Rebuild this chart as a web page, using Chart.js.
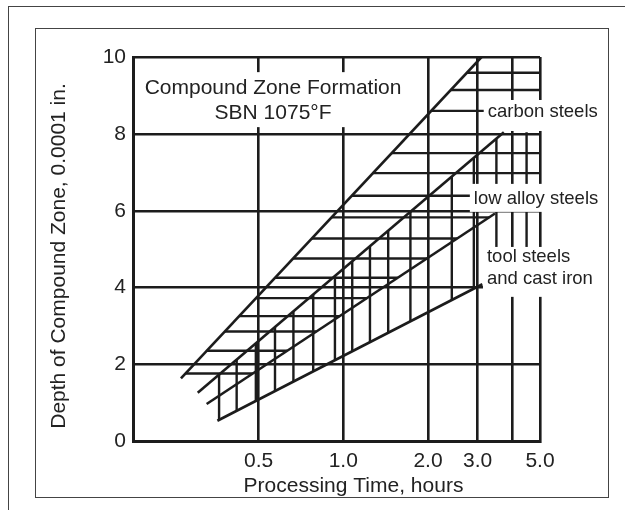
<!DOCTYPE html>
<html>
<head>
<meta charset="utf-8">
<script src="https://cdn.jsdelivr.net/npm/chart.js@4"></script>
<style>
  body { margin: 0; background: #fff; }
  .wrap { position: relative; width: 625px; height: 510px; overflow: hidden; background: #fff; }
  .outer { position: absolute; left: 8px; top: 6px; width: 700px; height: 600px; border-top: 1.5px solid #444; border-left: 1.5px solid #444; }
  .inner { position: absolute; left: 35px; top: 28px; width: 572px; height: 468px; border: 1.5px solid #444; }
  canvas { position: absolute; left: 0; top: 0; }
</style>
</head>
<body>
<div class="wrap">
  <div class="outer"></div>
  <div class="inner"></div>
  <canvas id="chart" width="625" height="510"></canvas>
</div>
<script>
const xTicks = [0.5, 1, 2, 3, 4, 5];
const xTickLabels = ['0.5', '1.0', '2.0', '3.0', '', '5.0'];
const yTicks = [0, 2, 4, 6, 8, 10];

// band edges, top to bottom: carbon upper, alloy upper, tool upper, tool lower
const edgeStartX = [0.265, 0.304, 0.327, 0.357];
const edgeStartY = [1.64, 1.27, 0.975, 0.54];
const edgeEndX = [3.1, 3.72, 3.46, 3.12];
const edgeEndY = [10, 8.04, 5.93, 4.09];

// horizontal hatch (depth levels) and vertical hatch (times)
const hatchDepths = [1.77, 2.36, 2.86, 3.26, 3.73, 4.26, 4.76, 5.28, 5.83, 6.39, 6.98, 7.50, 8.60, 9.14, 9.59];
const hatchTimes = [0.362, 0.418, 0.489, 0.572, 0.665, 0.782, 0.934, 1.076, 1.244, 1.444, 1.732, 2.43, 2.91, 3.50, 4.48];

const ink = '#1c1c1c';
const font = "'Liberation Sans', Arial, sans-serif";

// position along an edge (straight on the log axis)
function depthOn(i, t) {
  const f = (Math.log10(t) - Math.log10(edgeStartX[i])) / (Math.log10(edgeEndX[i]) - Math.log10(edgeStartX[i]));
  return edgeStartY[i] + f * (edgeEndY[i] - edgeStartY[i]);
}
function timeOn(i, d) {
  const f = (d - edgeStartY[i]) / (edgeEndY[i] - edgeStartY[i]);
  const lg = Math.log10(edgeStartX[i]) + f * (Math.log10(edgeEndX[i]) - Math.log10(edgeStartX[i]));
  return Math.pow(10, lg);
}

function seg(points, width) {
  return {
    data: points,
    showLine: true,
    borderColor: ink,
    borderWidth: width,
    pointRadius: 0,
    fill: false,
    tension: 0
  };
}

const datasets = [];
for (let i = 0; i < 4; i++) {
  datasets.push(seg([{x: edgeStartX[i], y: edgeStartY[i]}, {x: edgeEndX[i], y: edgeEndY[i]}], 2.6));
}
hatchDepths.forEach(d => {
  const x1 = timeOn(0, d);
  const x2 = d <= edgeEndY[2] ? timeOn(2, d) : 5;
  datasets.push(seg([{x: x1, y: d}, {x: x2, y: d}], 2.4));
});
hatchTimes.forEach(t => {
  const y1 = t <= edgeEndX[3] ? depthOn(3, t) : edgeEndY[3];
  const y2 = t <= edgeEndX[1] ? depthOn(1, t) : edgeEndY[1];
  datasets.push(seg([{x: t, y: y1}, {x: t, y: y2}], 2.4));
});

// text blocks; boxes are white patches that break the grid behind the text
const notes = [
  {lines: ['Compound Zone Formation', 'SBN 1075°F'], x: 0.563, y: [9.19, 8.54], align: 'center', size: 21, up: 16, down: 14, side: 5},
  {lines: ['carbon steels'], x: 3.26, y: [8.57], align: 'left', size: 18.5, up: 12, down: 19, side: 4},
  {lines: ['low alloy steels'], x: 2.91, y: [6.31], align: 'left', size: 18.5, up: 15, down: 13, side: 4},
  {lines: ['tool steels', 'and cast iron'], x: 3.24, y: [4.80, 4.23], align: 'left', size: 18.5, up: 10, down: 18, side: 4}
];

const notesPlugin = {
  id: 'notes',
  afterDatasetsDraw(chart) {
    const ctx = chart.ctx;
    const xs = chart.scales.x, ys = chart.scales.y;
    ctx.save();
    notes.forEach(n => {
      ctx.font = n.size + 'px ' + font;
      const px = xs.getPixelForValue(n.x);
      const pys = n.y.map(v => ys.getPixelForValue(v));
      const w = Math.max(...n.lines.map(l => ctx.measureText(l).width));
      const left = n.align === 'center' ? px - w / 2 : px;
      ctx.fillStyle = '#fff';
      ctx.fillRect(left - n.side, pys[0] - n.up, w + 2 * n.side, pys[pys.length - 1] + n.down - (pys[0] - n.up));
      ctx.fillStyle = '#222';
      ctx.textAlign = n.align;
      ctx.textBaseline = 'middle';
      n.lines.forEach((l, k) => ctx.fillText(l, px, pys[k]));
    });
    // axis titles
    ctx.font = '21px ' + font;
    ctx.fillStyle = '#222';
    ctx.textAlign = 'center';
    ctx.textBaseline = 'middle';
    ctx.fillText('Processing Time, hours', 353.5, 486);
    ctx.translate(59, 256);
    ctx.rotate(-Math.PI / 2);
    ctx.fillText('Depth of Compound Zone, 0.0001 in.', 0, 0);
    ctx.restore();
  }
};

Chart.defaults.font.family = font;

const myChart = new Chart(document.getElementById('chart'), {
  type: 'scatter',
  data: { datasets: datasets },
  options: {
    responsive: false,
    animation: false,
    layout: { padding: { left: 0, right: 85, top: 57, bottom: 0 } },
    plugins: {
      legend: { display: false },
      tooltip: { enabled: false }
    },
    scales: {
      x: {
        type: 'logarithmic',
        min: 0.179,
        max: 5,
        afterBuildTicks: s => { s.ticks = xTicks.map(v => ({value: v})); },
        afterFit: s => { s.height = 68.5; },
        ticks: {
          callback: (v, i) => xTickLabels[i],
          autoSkip: false,
          maxRotation: 0,
          padding: 7,
          color: '#222',
          font: { size: 21 }
        },
        grid: { color: ink, lineWidth: 2.6, drawTicks: false },
        border: { color: ink, width: 3 }
      },
      y: {
        min: 0,
        max: 10,
        afterBuildTicks: s => { s.ticks = yTicks.map(v => ({value: v})); },
        afterFit: s => { s.width = 133; },
        ticks: {
          padding: 7,
          color: '#222',
          font: { size: 21 }
        },
        grid: { color: ink, lineWidth: 2.6, drawTicks: false },
        border: { color: ink, width: 3 }
      }
    }
  },
  plugins: [notesPlugin]
});
</script>
</body>
</html>
